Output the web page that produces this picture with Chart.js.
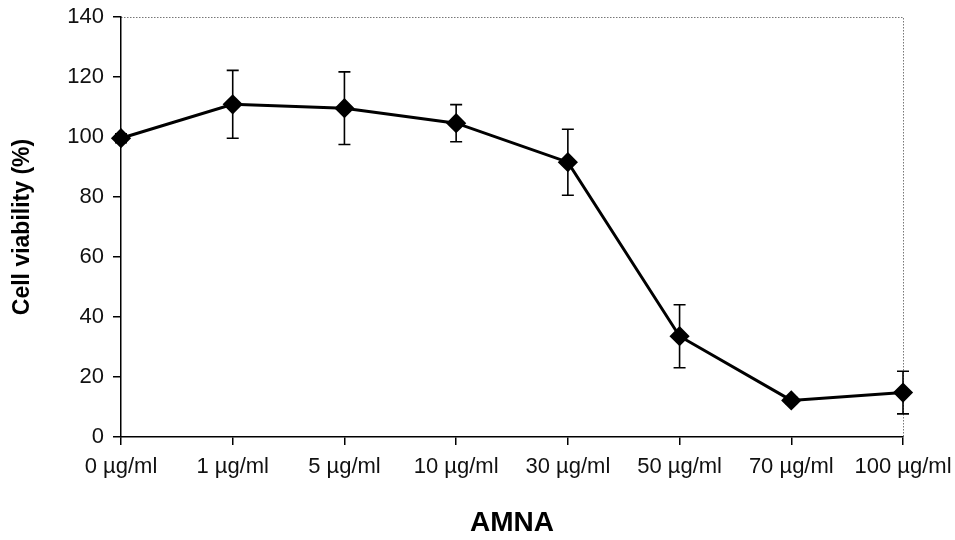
<!DOCTYPE html>
<html>
<head>
<meta charset="utf-8">
<script src="https://cdn.jsdelivr.net/npm/chart.js@4.4.0/dist/chart.umd.min.js"></script>
<style>
  html, body { margin: 0; padding: 0; background: #fff; }
  #wrap { width: 955px; height: 540px; }
</style>
</head>
<body>
<div id="wrap"><canvas id="viabilite"></canvas></div>
<script>
// ---- donnees ----
const doses = ['0 µg/ml', '1 µg/ml', '5 µg/ml', '10 µg/ml', '30 µg/ml', '50 µg/ml', '70 µg/ml', '100 µg/ml'];
const viabilite = [99.6, 110.9, 109.6, 104.6, 91.6, 33.6, 12.2, 14.8];
const ecartType = [1.5, 11.3, 12.1, 6.2, 11, 10.5, 1, 7.1];
const yTicks = [0, 20, 40, 60, 80, 100, 120, 140];

// barres d'erreur dessinees avant les marqueurs
const errorBars = {
    id: 'errorBars',
    beforeDatasetsDraw(chart) {
        const ctx = chart.ctx;
        const x = chart.scales.x, y = chart.scales.y;
        ctx.save();
        ctx.strokeStyle = '#000';
        ctx.lineWidth = 1.6;
        for (let i = 0; i < viabilite.length; i++) {
            const px = x.getPixelForValue(i);
            const top = y.getPixelForValue(viabilite[i] + ecartType[i]);
            const bot = y.getPixelForValue(viabilite[i] - ecartType[i]);
            ctx.beginPath();
            ctx.moveTo(px, top); ctx.lineTo(px, bot);
            ctx.moveTo(px - 6, top); ctx.lineTo(px + 6, top);
            ctx.moveTo(px - 6, bot); ctx.lineTo(px + 6, bot);
            ctx.stroke();
        }
        ctx.restore();
    }
};

// cadre pointille en haut et a droite
const cadre = {
    id: 'cadre',
    beforeDraw(chart) {
        const a = chart.chartArea;
        const ctx = chart.ctx;
        ctx.save();
        ctx.strokeStyle = '#777';
        ctx.lineWidth = 1;
        ctx.setLineDash([1.5, 1.5]);
        ctx.beginPath();
        ctx.moveTo(a.left, a.top + 0.5);
        ctx.lineTo(a.right + 0.5, a.top + 0.5);
        ctx.lineTo(a.right + 0.5, a.bottom);
        ctx.stroke();
        ctx.restore();
    }
};

// on laisse le layout.padding fixer la zone du graphique
function sansPadding(s) {
    s.paddingTop = 0; s.paddingBottom = 0;
    s.paddingLeft = 0; s.paddingRight = 0;
}

new Chart(document.getElementById('viabilite'), {
    type: 'line',
    data: {
        labels: doses,
        datasets: [{
            data: viabilite,
            borderColor: '#000',
            backgroundColor: '#000',
            borderWidth: 3,
            pointStyle: 'rectRot',
            pointRadius: 8,
            pointHoverRadius: 8,
            tension: 0
        }]
    },
    options: {
        responsive: true,
        maintainAspectRatio: false,
        animation: false,
        layout: { padding: { left: 0, right: 52, top: 17, bottom: 0 } },
        plugins: {
            legend: { display: false },
            tooltip: { enabled: false }
        },
        scales: {
            x: {
                offset: false,
                afterFit: s => { s.height = 103; sansPadding(s); },
                grid: { drawOnChartArea: false, drawTicks: true, tickLength: 8, color: '#000', lineWidth: 1.5, offset: false },
                border: { display: true, color: '#000', width: 1.5 },
                ticks: { color: '#111', font: { family: 'Liberation Sans, Arial', size: 22 }, padding: 9, maxRotation: 0, autoSkip: false },
                title: { display: true, text: 'AMNA', color: '#000', font: { family: 'Liberation Sans, Arial', size: 28, weight: 'bold' }, padding: { top: 0, bottom: 0 } }
            },
            y: {
                min: 0,
                max: 140,
                afterFit: s => { s.width = 121; sansPadding(s); },
                afterBuildTicks: s => { s.ticks = yTicks.map(v => ({ value: v })); },
                grid: { drawOnChartArea: false, drawTicks: true, tickLength: 8, color: '#000', lineWidth: 1.5 },
                border: { display: true, color: '#000', width: 1.5 },
                ticks: { color: '#111', font: { family: 'Liberation Sans, Arial', size: 22 }, padding: 9 },
                title: { display: true, text: 'Cell viability (%)', color: '#000', font: { family: 'Liberation Sans, Arial', size: 23, weight: 'bold' }, padding: { top: 9, bottom: 0 } }
            }
        }
    },
    plugins: [errorBars, cadre]
});
</script>
</body>
</html>
